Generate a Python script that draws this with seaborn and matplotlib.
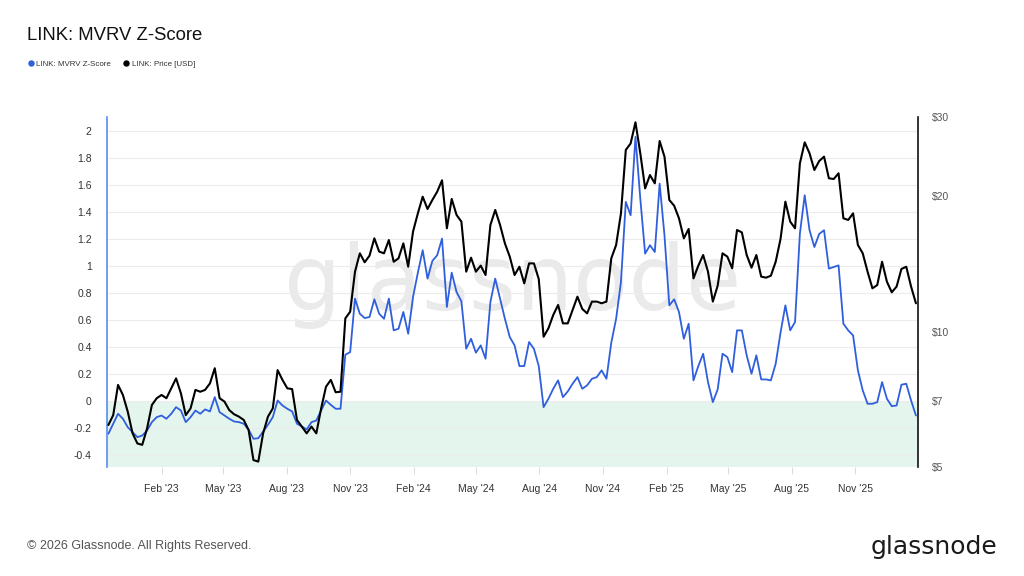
import numpy as np
import pandas as pd
import matplotlib
matplotlib.use("Agg")
import matplotlib.pyplot as plt
import matplotlib.dates as mdates
from matplotlib.lines import Line2D
from matplotlib.ticker import NullLocator, FixedLocator, FixedFormatter, NullFormatter
import seaborn as sns

# ---------------- data (weekly readings from the chart) ----------------
start_date = "2022-11-16"

price_usd = [
    6.20, 6.52, 7.61, 7.23, 6.64, 5.94, 5.64, 5.60, 6.09, 6.87,
    7.11, 7.23, 7.11, 7.48, 7.87, 7.29, 6.52, 6.75, 7.42, 7.35,
    7.42, 7.67, 8.29, 7.11, 6.99, 6.69, 6.55, 6.47, 6.36, 6.04,
    5.18, 5.14, 5.94, 6.47, 6.75, 8.21, 7.81, 7.48, 7.45, 6.36,
    6.15, 5.94, 6.15, 5.94, 6.75, 7.54, 7.81, 7.33, 7.35, 10.70,
    11.07, 13.59, 14.93, 14.26, 14.75, 16.12, 15.06, 14.93, 15.98, 14.30,
    14.55, 15.71, 13.94, 16.68, 18.32, 19.95, 18.73, 19.62, 20.47, 21.70,
    16.97, 19.72, 18.17, 17.56, 13.59, 14.60, 13.59, 14.02, 13.36, 17.26,
    18.64, 17.26, 15.71, 14.68, 13.36, 13.94, 12.80, 14.18, 14.18, 13.09,
    9.74, 10.17, 10.89, 11.46, 10.43, 10.43, 11.17, 11.96, 11.23, 10.98,
    11.66, 11.66, 11.56, 11.66, 14.55, 15.58, 18.32, 25.34, 26.20, 29.20,
    24.91, 20.82, 22.29, 21.36, 26.53, 24.49, 19.62, 19.05, 17.86, 16.12,
    16.91, 13.13, 14.02, 14.80, 13.59, 11.66, 12.65, 14.93, 14.68, 13.83,
    16.82, 16.62, 14.80, 13.87, 14.80, 13.25, 13.18, 13.31, 14.30, 16.07,
    19.45, 17.56, 16.97, 23.66, 26.35, 24.91, 22.87, 23.95, 24.49, 21.92,
    21.84, 22.49, 17.86, 17.71, 18.32, 15.58, 14.93, 13.59, 12.48, 12.69,
    14.30, 12.91, 12.23, 12.59, 13.78, 13.94, 12.59, 11.56,
]

mvrv_z = [
    -0.244, -0.170, -0.096, -0.133, -0.195, -0.232, -0.269, -0.257, -0.220, -0.158,
    -0.121, -0.109, -0.133, -0.096, -0.047, -0.072, -0.158, -0.121, -0.072, -0.096,
    -0.064, -0.079, 0.027, -0.084, -0.109, -0.133, -0.153, -0.158, -0.170, -0.215,
    -0.281, -0.277, -0.227, -0.178, -0.121, 0.002, -0.035, -0.059, -0.079, -0.170,
    -0.190, -0.212, -0.158, -0.146, -0.072, 0.002, -0.030, -0.059, -0.059, 0.341,
    0.360, 0.756, 0.644, 0.612, 0.620, 0.751, 0.644, 0.607, 0.756, 0.521,
    0.533, 0.657, 0.496, 0.768, 0.948, 1.114, 0.904, 1.035, 1.077, 1.200,
    0.694, 0.948, 0.805, 0.736, 0.385, 0.459, 0.356, 0.410, 0.311, 0.731,
    0.904, 0.756, 0.607, 0.472, 0.410, 0.257, 0.257, 0.435, 0.385, 0.257,
    -0.047, 0.015, 0.089, 0.151, 0.027, 0.069, 0.126, 0.175, 0.089, 0.114,
    0.163, 0.175, 0.225, 0.163, 0.430, 0.607, 0.879, 1.472, 1.373, 1.953,
    1.496, 1.089, 1.151, 1.101, 1.607, 1.225, 0.706, 0.751, 0.657, 0.459,
    0.570, 0.151, 0.257, 0.348, 0.138, -0.010, 0.084, 0.348, 0.323, 0.212,
    0.521, 0.521, 0.336, 0.200, 0.336, 0.158, 0.158, 0.151, 0.274, 0.504,
    0.706, 0.521, 0.583, 1.237, 1.521, 1.262, 1.138, 1.235, 1.262, 0.978,
    0.990, 1.002, 0.570, 0.521, 0.484, 0.225, 0.077, -0.022, -0.022, -0.010,
    0.138, 0.015, -0.040, -0.035, 0.119, 0.126, 0.002, -0.109,
]

z_ticks = [-0.4, -0.2, 0, 0.2, 0.4, 0.6, 0.8, 1.0, 1.2, 1.4, 1.6, 1.8, 2.0]
z_tick_labels = ["-0.4", "-0.2", "0", "0.2", "0.4", "0.6", "0.8", "1",
                 "1.2", "1.4", "1.6", "1.8", "2"]
price_ticks = [5, 7, 10, 20, 30]
price_tick_labels = ["$5", "$7", "$10", "$20", "$30"]
series_labels = ["LINK: MVRV Z-Score", "LINK: Price [USD]"]

# ---------------- styling ----------------
BLUE = "#2f5fdc"
BLACK = "#000000"

sns.set_theme(style="white")
plt.rcParams["font.family"] = ["Liberation Sans", "DejaVu Sans"]

dates = pd.date_range(start_date, periods=len(price_usd), freq="7D")
df = pd.DataFrame({"date": dates, "z": mvrv_z, "price": price_usd})

fig = plt.figure(figsize=(10.24, 5.76), dpi=100)
ax = fig.add_axes([107 / 1024, 1 - 467 / 576, (918 - 107) / 1024, 350 / 576])

z_min, z_max = -0.49, 2.1
ax.set_ylim(z_min, z_max)
ax.axhspan(z_min, 0, color="#e4f5ee", zorder=0.1, lw=0)
ax.set_axisbelow(True)

ax.text(0.5, 0.52, "glassnode", transform=ax.transAxes, ha="center", va="center",
        fontsize=65, color="#eaeaea", family=["DejaVu Sans"], zorder=0.3)

sns.lineplot(data=df, x="date", y="z", ax=ax, color=BLUE, linewidth=1.3, zorder=2)

ax2 = ax.twinx()
sns.lineplot(data=df, x="date", y="price", ax=ax2, color=BLACK, linewidth=1.5, zorder=3)
ax2.set_yscale("log")
ax2.set_ylim(5, 30)
ax2.yaxis.set_major_locator(FixedLocator(price_ticks))
ax2.yaxis.set_major_formatter(FixedFormatter(price_tick_labels))
ax2.yaxis.set_minor_locator(NullLocator())
ax2.yaxis.set_minor_formatter(NullFormatter())

ax.set_xlim(pd.Timestamp("2022-11-14"), pd.Timestamp("2026-01-31"))
ax.xaxis.set_major_locator(mdates.MonthLocator(bymonth=[2, 5, 8, 11]))
ax.xaxis.set_major_formatter(mdates.DateFormatter("%b '%y"))

ax.set_yticks(z_ticks)
ax.set_yticklabels(z_tick_labels)
ax.grid(axis="y", color="#ececec", linewidth=0.8)
ax.grid(axis="x", visible=False)
ax2.grid(False)

for a in (ax, ax2):
    a.set_xlabel("")
    a.set_ylabel("")
    for s in ("top", "bottom"):
        a.spines[s].set_visible(False)
ax.spines["right"].set_visible(False)
ax2.spines["left"].set_visible(False)
ax.spines["left"].set_color("#5b8af5")
ax.spines["left"].set_linewidth(1.2)
ax2.spines["right"].set_color("#111111")
ax2.spines["right"].set_linewidth(1.2)

ax.tick_params(axis="y", length=0, pad=11, labelsize=7.5, labelcolor="#333333")
ax.tick_params(axis="x", length=5, width=0.8, color="#dddddd", pad=7,
               labelsize=7.5, labelcolor="#333333", bottom=True)
ax2.tick_params(axis="y", which="both", length=0, pad=10, labelsize=7.5,
                labelcolor="#555555")

# ---------------- title / legend / footer ----------------
fig.text(27 / 1024, 1 - 35 / 576, "LINK: MVRV Z-Score", fontsize=13.3,
         va="center", ha="left", color="#111111")

handles = [
    Line2D([0], [0], marker="o", linestyle="", markerfacecolor=BLUE,
           markeredgecolor=BLUE, markersize=3.6),
    Line2D([0], [0], marker="o", linestyle="", markerfacecolor=BLACK,
           markeredgecolor=BLACK, markersize=3.6),
]
fig.legend(handles, series_labels, loc="center left",
           bbox_to_anchor=(23 / 1024, 1 - 64 / 576), ncol=2, frameon=False,
           fontsize=5.7, handletextpad=0.2, columnspacing=1.4, handlelength=1.0,
           borderpad=0, labelcolor="#333333")

fig.text(27 / 1024, 1 - 546 / 576, "\u00a9 2026 Glassnode. All Rights Reserved.",
         fontsize=9, color="#555555", va="center", ha="left")
fig.text(997 / 1024, 1 - 547 / 576, "glassnode", fontsize=18, color="#1a1a1a",
         va="center", ha="right", family=["DejaVu Sans"])

fig.savefig("out.png", dpi=100)
